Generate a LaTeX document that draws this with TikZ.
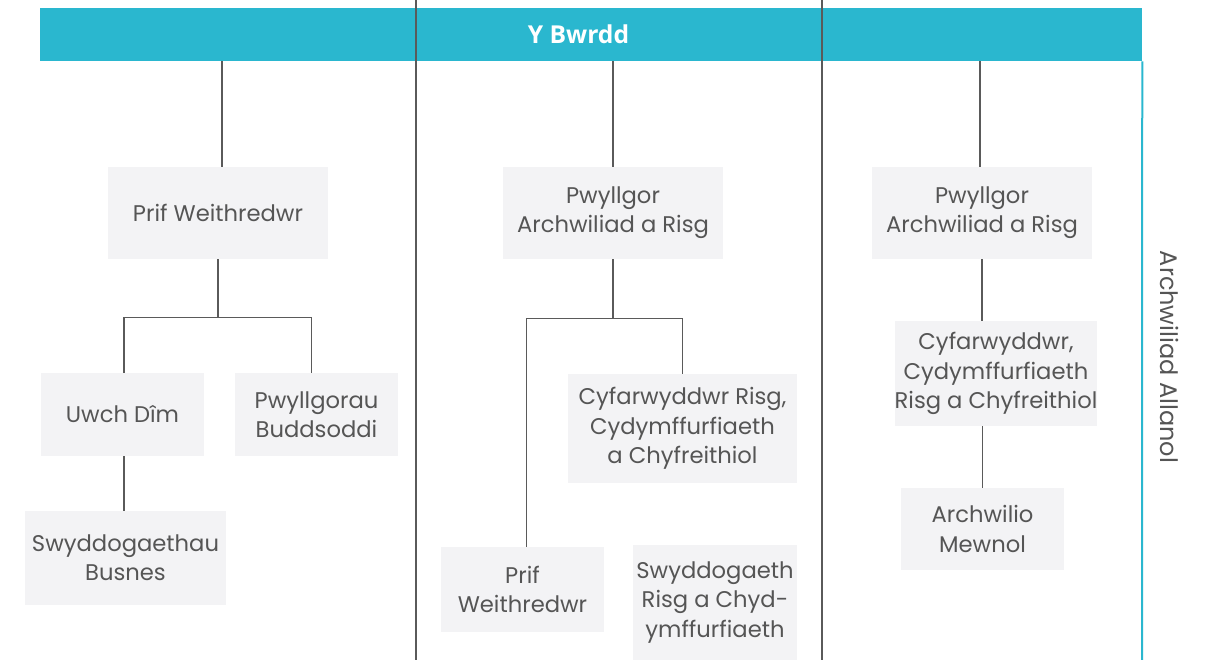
\documentclass[tikz,border=0pt]{standalone}
\usepackage{fontspec}
\setmainfont{Poppins}
\newfontfamily\titlefont{Open Sans}
\usetikzlibrary{positioning}
\newcommand{\pxu}{0.75pt}
\definecolor{bwrddblue}{HTML}{2AB7CF}
\definecolor{boxgrey}{HTML}{F3F3F5}
\definecolor{linegrey}{HTML}{5A5A5A}
\definecolor{textgrey}{HTML}{555555}
\begin{document}
\begin{tikzpicture}[
  x=\pxu, y=-\pxu,
  orgbox/.style 2 args={fill=boxgrey, text=textgrey, align=center,
    minimum width=#1*\pxu, minimum height=#2*\pxu, inner sep=0pt,
    font=\fontsize{17}{22}\selectfont},
  link/.style={draw=linegrey, line width=1pt},
]
\useasboundingbox (0,0) rectangle (1208,660);
% top bar
\node[fill=bwrddblue, minimum width=1102*\pxu, minimum height=53*\pxu,
  inner sep=0pt] (bwrdd) at (591,34.5) {};
\node[text=white, inner sep=0pt, font=\titlefont\bfseries\fontsize{18.5}{20}\selectfont]
  (bwrddtitle) at (578.5,34.5) {Y Bwrdd};
% column dividers
\coordinate (d1t) at (416,0);
\coordinate (d1b) at (416,660);
\coordinate (d2t) at (822,0);
\coordinate (d2b) at (822,660);
\draw[link] (d1t) -- (d1b);
\draw[link] (d2t) -- (d2b);
\coordinate (allb) at (1142,660);
\draw[draw=bwrddblue, line width=1.5pt] (bwrdd.south east) -- (allb);

% column 1
\node[orgbox={220}{92}] (prif1) at (218,213) {Prif Weithredwr};
\node[orgbox={163}{83}] (uwch) at (122.5,414.5) {Uwch Dîm};
\node[orgbox={163}{83}] (buddsoddi) at (316.5,414.5) {Pwyllgorau\\Buddsoddi};
\node[orgbox={201}{94}] (busnes) at (125.5,558) {Swyddogaethau\\Busnes};
\draw[link] ([xshift=3pt]prif1.north) -- ([xshift=3pt]prif1.north |- bwrdd.south);
\draw[link] (prif1.south) -- ++(0,58) coordinate (j1);
\draw[link] ([xshift=1pt]uwch.north) |- (j1) -| ([xshift=-4pt]buddsoddi.north);
\draw[link] ([xshift=1pt]uwch.south) -- ([xshift=1pt]uwch.south |- busnes.north);

% column 2
\node[orgbox={220}{92}] (risg2) at (613,213) {Pwyllgor\\Archwiliad a Risg};
\node[orgbox={229}{109}] (cyfrisg) at (682.5,428.5) {Cyfarwyddwr Risg,\\Cydymffurfiaeth\\a Chyfreithiol};
\node[orgbox={163}{85}] (prif2) at (522.5,589.5) {Prif\\Weithredwr};
\node[orgbox={164}{115}] (swyddrisg) at (715,602.5) {Swyddogaeth\\Risg a Chyd-\\ymffurfiaeth};
\draw[link] (risg2.north) -- (risg2.north |- bwrdd.south);
\draw[link] (risg2.south) -- ++(0,59) coordinate (j2);
\draw[link] ([xshift=3pt]prif2.north) |- (j2) -| (cyfrisg.north);

% column 3
\node[orgbox={220}{92}] (risg3) at (982,213) {Pwyllgor\\Archwiliad a Risg};
\node[orgbox={200}{105}] (cyfarw) at (996,373.5) {Cyfarwyddwr,\\Cydymffurfiaeth\\Risg a Chyfreithiol};
\node[orgbox={163}{82}] (mewnol) at (982.5,529) {Archwilio\\Mewnol};
\draw[link] ([xshift=-1.5pt]risg3.north) -- ([xshift=-1.5pt]risg3.north |- bwrdd.south);
\draw[link] (risg3.south) -- (risg3.south |- cyfarw.north);
\draw[link] (mewnol.north |- cyfarw.south) -- (mewnol.north);

% external audit
\node[rotate=-90, text=textgrey, font=\fontsize{18}{22}\selectfont] (allanol) at (1170,357) {Archwiliad Allanol};
\end{tikzpicture}
\end{document}
